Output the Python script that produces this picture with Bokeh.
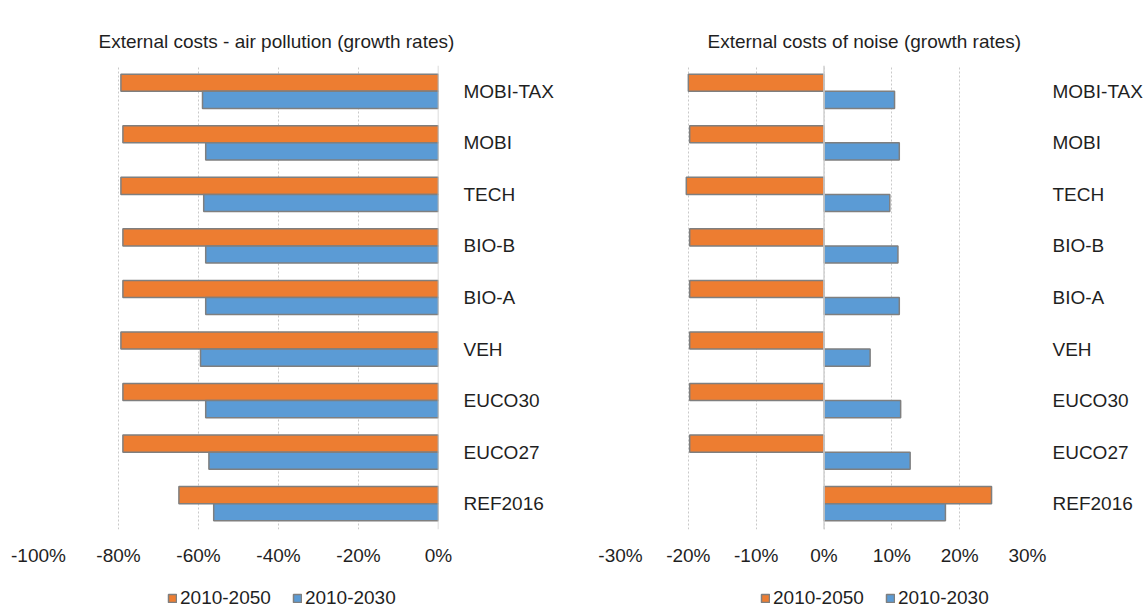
from bokeh.plotting import figure
from bokeh.models import (FactorRange, Range1d, FixedTicker, PrintfTickFormatter, Span,
                          Legend, LegendItem, ColumnDataSource)
from bokeh.transform import dodge
from bokeh.layouts import row, column
from bokeh.embed import file_html
from bokeh.resources import INLINE

# ---------------- data ----------------
categories = ["MOBI-TAX", "MOBI", "TECH", "BIO-B", "BIO-A", "VEH", "EUCO30", "EUCO27", "REF2016"]
series_names = ["2010-2050", "2010-2030"]

air_2050 = [-79.4, -78.9, -79.4, -78.9, -78.9, -79.4, -78.9, -78.9, -64.9]
air_2030 = [-59.0, -58.2, -58.7, -58.2, -58.2, -59.5, -58.2, -57.4, -56.2]

noise_2050 = [-20.0, -19.8, -20.3, -19.8, -19.8, -19.8, -19.8, -19.8, 24.7]
noise_2030 = [10.4, 11.1, 9.7, 10.9, 11.1, 6.8, 11.3, 12.7, 17.9]

air_ticks = [-100, -80, -60, -40, -20, 0]
noise_ticks = [-30, -20, -10, 0, 10, 20, 30]

titles = ["External costs - air pollution (growth rates)", "External costs of noise (growth rates)"]

# ---------------- style ----------------
FONT = "Liberation Sans"
TXT = "#1f1f1f"
ORANGE = "#ED7D31"
BLUE = "#5B9BD5"
EDGE = "#7f7f7f"
GRID = "#c9c9c9"
H = 569
TOP = 65
FRAME_H = 464
BOTTOM = H - TOP - FRAME_H
LEG_H = 40


def panel(title, xr, ticks, v50, v30, b_left, frame_w, b_right, title_off, legend_x):
    W = b_left + frame_w + b_right
    src = ColumnDataSource(dict(cat=categories, v50=v50, v30=v30))
    p = figure(width=W, height=H,
               x_range=Range1d(*xr), y_range=FactorRange(*categories[::-1]),
               y_axis_location="right", output_backend="svg", toolbar_location=None,
               min_border_left=b_left, min_border_right=b_right,
               min_border_top=TOP, min_border_bottom=BOTTOM)
    p.outline_line_color = None
    p.background_fill_color = "white"
    p.border_fill_color = "white"

    p.title.text = title
    p.title.align = "left"
    p.title.offset = title_off
    p.title.standoff = 28
    p.title.text_font = FONT
    p.title.text_font_size = "19px"
    p.title.text_font_style = "normal"
    p.title.text_color = TXT

    p.ygrid.grid_line_color = None
    p.xgrid.grid_line_color = GRID
    p.xgrid.grid_line_dash = "2 2"
    p.xgrid.grid_line_width = 1
    p.xaxis.ticker = FixedTicker(ticks=ticks)
    p.xaxis.formatter = PrintfTickFormatter(format="%d%%")

    for ax in (p.xaxis[0], p.yaxis[0]):
        ax.axis_line_color = None
        ax.major_tick_line_color = None
        ax.minor_tick_line_color = None
        ax.major_tick_out = 0
        ax.major_tick_in = 0
        ax.minor_tick_out = 0
        ax.minor_tick_in = 0
        ax.major_label_text_font = FONT
        ax.major_label_text_font_size = "19px"
        ax.major_label_text_color = TXT
    p.xaxis.major_label_standoff = 15
    p.yaxis.major_label_standoff = 25

    bar50 = dict(fill_color=ORANGE, line_color=EDGE, line_width=1.5)
    bar30 = dict(fill_color=BLUE, line_color=EDGE, line_width=1.5)
    p.hbar(y=dodge("cat", 0.166, range=p.y_range), left=0, right="v50", height=0.332,
           source=src, **bar50)
    p.hbar(y=dodge("cat", -0.166, range=p.y_range), left=0, right="v30", height=0.332,
           source=src, **bar30)

    p.add_layout(Span(location=0, dimension="height", line_color="#d0d0d0", line_width=1.5))

    # legend strip below the chart (hidden copies of the two series supply the swatches)
    lf = figure(width=W, height=LEG_H, x_range=Range1d(*xr),
                y_range=FactorRange(*categories[::-1]),
                output_backend="svg", toolbar_location=None,
                min_border_left=b_left, min_border_right=b_right,
                min_border_top=0, min_border_bottom=0)
    lf.axis.visible = False
    lf.grid.visible = False
    lf.outline_line_color = None
    lf.border_fill_color = "white"
    e50 = lf.hbar(y="cat", left=0, right="v50", height=0.332, source=src, visible=False, **bar50)
    e30 = lf.hbar(y="cat", left=0, right="v30", height=0.332, source=src, visible=False, **bar30)
    leg = Legend(items=[LegendItem(label=series_names[0], renderers=[e50], index=0),
                        LegendItem(label=series_names[1], renderers=[e30], index=0)],
                 location=(legend_x, 0), orientation="horizontal",
                 glyph_width=10, glyph_height=10, label_standoff=3, spacing=21,
                 padding=0, margin=0, border_line_color=None, background_fill_alpha=0,
                 inactive_fill_alpha=0,
                 label_text_font=FONT, label_text_font_size="19px",
                 label_text_color=TXT, label_height=10)
    lf.add_layout(leg, "center")
    return column(p, lf)


p1 = panel(titles[0], (-100, 0), air_ticks, air_2050, air_2030,
           38, 400, 152, 60, 129)
p2 = panel(titles[1], (-30, 30), noise_ticks, noise_2050, noise_2030,
           30, 407, 118, 87, 140)

layout = row(p1, p2)
open("out.html", "w").write(file_html(layout, INLINE))
